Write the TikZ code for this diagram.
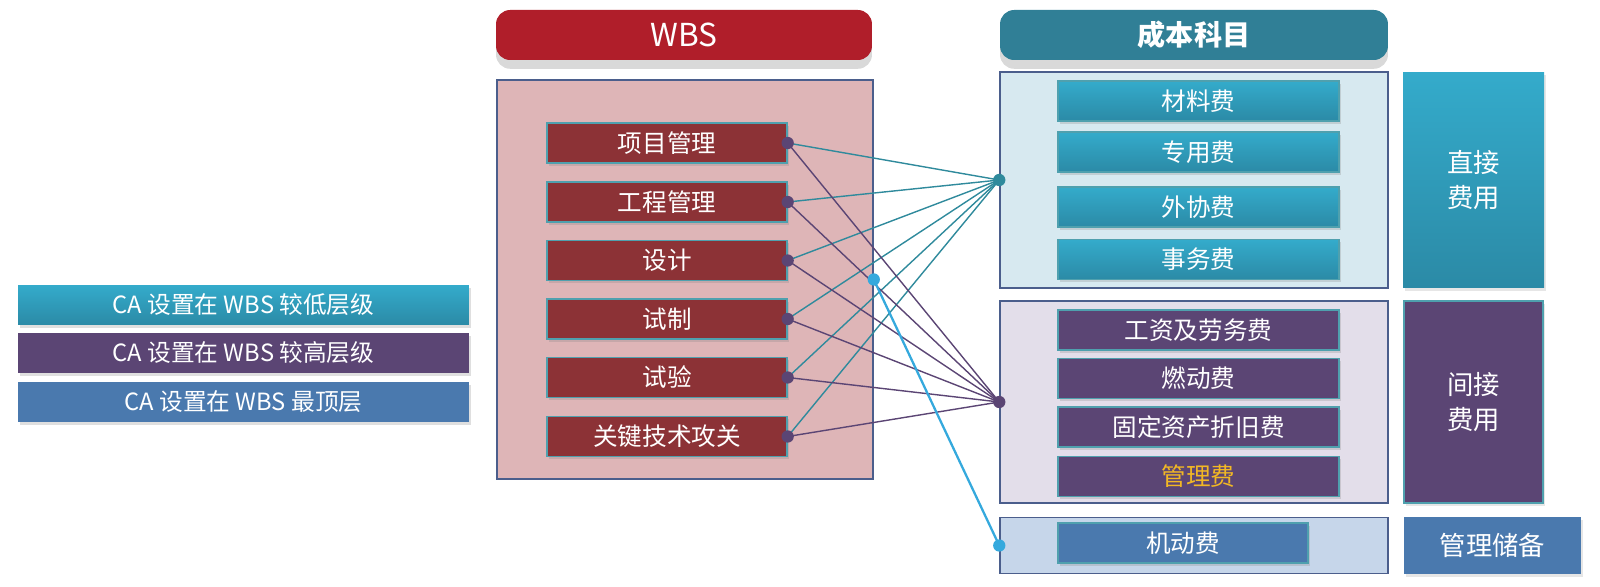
\documentclass[tikz,border=0pt]{standalone}
\usepackage{fontspec}
\setmainfont{Noto Sans CJK SC}
\usetikzlibrary{shadows}

\definecolor{wbshead}{HTML}{B01E2A}
\definecolor{wbsbg}{HTML}{DEB5B7}
\definecolor{wbsitem}{HTML}{8C3236}
\definecolor{boxedge}{HTML}{4B5E8C}
\definecolor{itemedge}{HTML}{4FA0AE}
\definecolor{costhead}{HTML}{307F96}
\definecolor{dirbg}{HTML}{D7E9F0}
\definecolor{tealtop}{HTML}{34ABCB}
\definecolor{tealbot}{HTML}{2B8AA6}
\definecolor{indbg}{HTML}{E3DEEA}
\definecolor{purp}{HTML}{5B4574}
\definecolor{resbg}{HTML}{C6D6EA}
\definecolor{resblue}{HTML}{4A79AE}
\definecolor{gold}{HTML}{F2B824}
\definecolor{tealline}{HTML}{2F8A9C}
\definecolor{blueline}{HTML}{35A9DD}

\tikzset{
  head/.style={rounded corners=8pt, text=white, minimum height=1.0cm, inner sep=0pt,
    drop shadow={opacity=0.3, shadow xshift=0pt, shadow yshift=-5pt}},
  frame/.style={draw=boxedge, line width=0.9pt, inner sep=0pt},
  item/.style={draw=itemedge, line width=0.8pt, text=white, minimum height=0.8cm, inner sep=0pt,
    font=\fontsize{14}{16}\selectfont,
    drop shadow={opacity=0.25, shadow xshift=1pt, shadow yshift=-1.5pt}},
  side/.style={text=white, inner sep=0pt, align=center, font=\fontsize{15}{20}\selectfont,
    drop shadow={opacity=0.2, shadow xshift=1pt, shadow yshift=-1.5pt}},
  legend/.style={text=white, minimum width=9.02cm, minimum height=0.8cm, inner sep=0pt,
    font=\fontsize{13.5}{15}\selectfont,
    drop shadow={opacity=0.25, shadow xshift=1pt, shadow yshift=-1.5pt}},
  dot/.style={circle, fill=#1, inner sep=0pt, minimum size=7pt}
}

\begin{document}
\begin{tikzpicture}[x=0.02cm, y=-0.02cm]

\useasboundingbox (0,0) rectangle (1600,587);

% legend
\node[legend, top color=tealtop, bottom color=tealbot] (lgLow) at (243.5,305) {CA 设置在 WBS 较低层级};
\node[legend, fill=purp] (lgHigh) at (243.5,353) {CA 设置在 WBS 较高层级};
\node[legend, fill=resblue] (lgTop) at (243.5,402) {CA 设置在 WBS 最顶层};

% WBS side
\node[head, fill=wbshead, minimum width=7.52cm, font=\fontsize{18}{20}\selectfont] (wbsHead) at (684,35) {WBS};
\node[frame, fill=wbsbg, minimum width=7.52cm, minimum height=7.98cm] (wbs) at (685,279.5) {};

\node[item, fill=wbsitem, minimum width=4.8cm] (w1) at (667,143) {项目管理};
\node[item, fill=wbsitem, minimum width=4.8cm] (w2) at (667,202) {工程管理};
\node[item, fill=wbsitem, minimum width=4.8cm] (w3) at (667,260.5) {设计};
\node[item, fill=wbsitem, minimum width=4.8cm] (w4) at (667,319) {试制};
\node[item, fill=wbsitem, minimum width=4.8cm] (w5) at (667,377.5) {试验};
\node[item, fill=wbsitem, minimum width=4.8cm] (w6) at (667,436.5) {关键技术攻关};

% cost side
\node[head, fill=costhead, minimum width=7.76cm, font=\fontsize{16}{20}\selectfont\bfseries] (costHead) at (1194,35) {成本科目};

\node[frame, fill=dirbg, minimum width=7.76cm, minimum height=4.32cm] (direct) at (1194,180) {};
\node[item, top color=tealtop, bottom color=tealbot, minimum width=5.62cm] (c1) at (1198.5,101) {材料费};
\node[item, top color=tealtop, bottom color=tealbot, minimum width=5.62cm] (c2) at (1198.5,152) {专用费};
\node[item, top color=tealtop, bottom color=tealbot, minimum width=5.62cm] (c3) at (1198.5,207) {外协费};
\node[item, top color=tealtop, bottom color=tealbot, minimum width=5.62cm] (c4) at (1198.5,259.5) {事务费};
\node[side, top color=tealtop, bottom color=tealbot, minimum width=2.82cm, minimum height=4.32cm] (sDirect) at (1473.5,180) {直接\\费用};

\node[frame, fill=indbg, minimum width=7.76cm, minimum height=4.04cm] (indirect) at (1194,402) {};
\node[item, fill=purp, minimum width=5.62cm] (c5) at (1198.5,330) {工资及劳务费};
\node[item, fill=purp, minimum width=5.62cm] (c6) at (1198.5,378.5) {燃动费};
\node[item, fill=purp, minimum width=5.62cm] (c7) at (1198.5,427) {固定资产折旧费};
\node[item, fill=purp, minimum width=5.62cm, text=gold] (c8) at (1198.5,476.5) {管理费};
\node[side, fill=purp, draw=itemedge, line width=0.6pt, minimum width=2.78cm, minimum height=4.04cm] (sIndirect) at (1473.5,402) {间接\\费用};

\node[frame, fill=resbg, minimum width=7.76cm, minimum height=1.12cm] (reserve) at (1194,545.5) {};
\node[item, fill=resblue, minimum width=5.0cm] (c9) at (1183,543) {机动费};
\node[side, fill=resblue, minimum width=3.54cm, minimum height=1.14cm] (sReserve) at (1492.5,545.5) {管理储备};

% connectors
\draw[tealline, thick] (w1.east)--(direct.west);
\draw[tealline, thick] (w2.east)--(direct.west);
\draw[tealline, thick] (w3.east)--(direct.west);
\draw[tealline, thick] (w4.east)--(direct.west);
\draw[tealline, thick] (w5.east)--(direct.west);
\draw[tealline, thick] (w6.east)--(direct.west);

\draw[purp, thick] (w1.east)--(indirect.west);
\draw[purp, thick] (w2.east)--(indirect.west);
\draw[purp, thick] (w3.east)--(indirect.west);
\draw[purp, thick] (w4.east)--(indirect.west);
\draw[purp, thick] (w5.east)--(indirect.west);
\draw[purp, thick] (w6.east)--(indirect.west);

\draw[blueline, line width=1.3pt] (wbs.east)--(reserve.west);

\node[dot=purp] (d1) at (w1.east) {};
\node[dot=purp] (d2) at (w2.east) {};
\node[dot=purp] (d3) at (w3.east) {};
\node[dot=purp] (d4) at (w4.east) {};
\node[dot=purp] (d5) at (w5.east) {};
\node[dot=purp] (d6) at (w6.east) {};
\node[dot=tealline] (dDirect) at (direct.west) {};
\node[dot=purp] (dIndirect) at (indirect.west) {};
\node[dot=blueline] (dReserve) at (reserve.west) {};
\node[dot=blueline] (dWbs) at (wbs.east) {};

\end{tikzpicture}
\end{document}
